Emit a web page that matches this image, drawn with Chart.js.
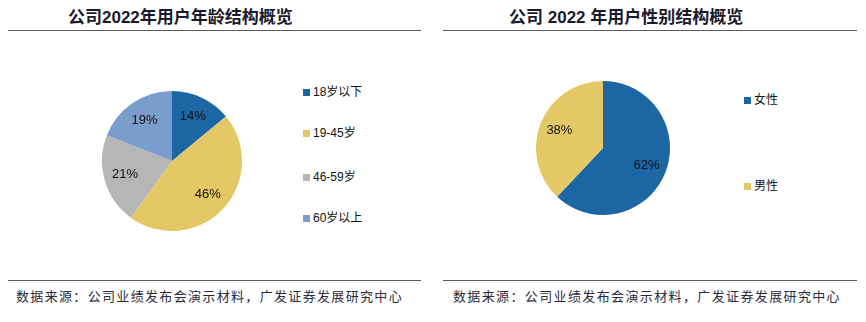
<!DOCTYPE html>
<html>
<head>
<meta charset="utf-8">
<script src="https://cdn.jsdelivr.net/npm/chart.js@4.4.1/dist/chart.umd.min.js"></script>
<style>
  html, body { margin: 0; padding: 0; background: #fff; }
  body { width: 866px; height: 322px; position: relative; overflow: hidden; }
  .title {
    position: absolute; top: 7px; height: 22px; line-height: 22px;
    font-family: "Liberation Sans", "Noto Sans CJK SC", sans-serif;
    font-size: 17px; font-weight: 700; color: #1a1a2a; white-space: pre;
  }
  .rule { position: absolute; height: 0; border-top: 1.5px solid #5a5a5a; }
  .source {
    position: absolute; top: 286px; height: 20px; line-height: 20px;
    font-family: "Noto Sans CJK SC", sans-serif; font-size: 13px;
    letter-spacing: 1px; color: #2a2a3a; white-space: nowrap;
  }
  canvas { position: absolute; }
  .legend { position: absolute; font-family: "Liberation Sans", "Noto Sans CJK SC", sans-serif; font-size: 12px; color: #111; }
  .legend .item { position: absolute; left: 0; height: 14px; line-height: 14px; white-space: nowrap; }
  .legend .box { position: absolute; left: 0; top: 4px; width: 7px; height: 7px; }
  .legend .txt { position: absolute; left: 10px; top: 0; }
</style>
</head>
<body>
  <div class="title" style="left:68px;">公司2022年用户年龄结构概览</div>
  <div class="title" style="left:509px;">公司 2022 年用户性别结构概览</div>
  <div class="rule" style="left:8px; width:413px; top:30px;"></div>
  <div class="rule" style="left:443px; width:414px; top:30px;"></div>

  <canvas id="agePie" width="140" height="140" style="left:102px; top:91px;"></canvas>
  <div class="legend" id="ageLegend" style="left:303px; top:0;"></div>

  <canvas id="genderPie" width="134" height="134" style="left:536px; top:81px;"></canvas>
  <div class="legend" id="genderLegend" style="left:744px; top:0;"></div>

  <div class="rule" style="left:8px; width:413px; top:280px;"></div>
  <div class="rule" style="left:443px; width:414px; top:280px;"></div>
  <div class="source" id="srcLeft" style="left:16px;">数据来源：公司业绩发布会演示材料，广发证券发展研究中心</div>
  <div class="source" id="srcRight" style="left:453px;">数据来源：公司业绩发布会演示材料，广发证券发展研究中心</div>

<script>
// Age structure of users, 2022 (share, %)
const ageGroups = ['18岁以下', '19-45岁', '46-59岁', '60岁以上'];
const ageShares = [14, 46, 21, 19];
const ageColors = ['#1c67a3', '#e5c866', '#b6b6b6', '#7a9dcd'];

// Gender structure of users, 2022 (share, %)
const genderGroups = ['女性', '男性'];
const genderShares = [62, 38];
const genderColors = ['#1c67a3', '#e5c866'];

// Legend row offsets (top of each row, px)
const ageLegendRows = [85, 126, 170, 211];
const genderLegendRows = [93, 179];

// Draws the percentage inside each slice
const sliceLabels = {
  id: 'sliceLabels',
  afterDatasetsDraw(chart) {
    const ctx = chart.ctx;
    const meta = chart.getDatasetMeta(0);
    const values = chart.data.datasets[0].data;
    ctx.save();
    ctx.font = '13px "Liberation Sans", Arial, sans-serif';
    ctx.fillStyle = '#111';
    ctx.textAlign = 'center';
    ctx.textBaseline = 'middle';
    meta.data.forEach((arc, i) => {
      const p = arc.getProps(['x', 'y', 'startAngle', 'endAngle', 'outerRadius'], true);
      const mid = (p.startAngle + p.endAngle) / 2;
      const r = p.outerRadius * 0.7;
      ctx.fillText(values[i] + '%', p.x + Math.cos(mid) * r, p.y + Math.sin(mid) * r);
    });
    ctx.restore();
  }
};

function makePie(id, labels, values, colors) {
  return new Chart(document.getElementById(id), {
    type: 'pie',
    data: {
      labels: labels,
      datasets: [{ data: values, backgroundColor: colors, borderWidth: 0 }]
    },
    options: {
      responsive: false,
      animation: false,
      layout: { padding: 0 },
      plugins: { legend: { display: false }, tooltip: { enabled: false } }
    },
    plugins: [sliceLabels]
  });
}

function buildLegend(id, labels, colors, rows) {
  const host = document.getElementById(id);
  labels.forEach((name, i) => {
    const item = document.createElement('div');
    item.className = 'item';
    item.style.top = rows[i] + 'px';
    const box = document.createElement('span');
    box.className = 'box';
    box.style.background = colors[i];
    const txt = document.createElement('span');
    txt.className = 'txt';
    txt.textContent = name;
    item.appendChild(box);
    item.appendChild(txt);
    host.appendChild(item);
  });
}

// Spread the source line so it spans a fixed width
function fitWidth(id, target) {
  const el = document.getElementById(id);
  const n = el.textContent.length;
  el.style.letterSpacing = '0px';
  const w = el.getBoundingClientRect().width;
  el.style.letterSpacing = ((target - w) / n) + 'px';
}

makePie('agePie', ageGroups, ageShares, ageColors);
makePie('genderPie', genderGroups, genderShares, genderColors);
buildLegend('ageLegend', ageGroups, ageColors, ageLegendRows);
buildLegend('genderLegend', genderGroups, genderColors, genderLegendRows);
fitWidth('srcLeft', 387);
fitWidth('srcRight', 388);
</script>
</body>
</html>
